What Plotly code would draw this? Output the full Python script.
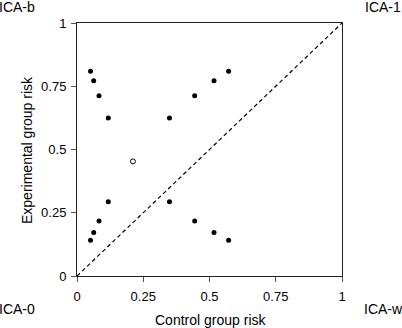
import plotly.graph_objects as go

# Control group risk (x) and experimental group risk (y), filled points
control_risk = [0.051, 0.063, 0.083, 0.118, 0.349, 0.444, 0.517, 0.572,
                0.051, 0.063, 0.083, 0.118, 0.349, 0.444, 0.517, 0.572]
experimental_risk = [0.809, 0.772, 0.712, 0.625, 0.625, 0.712, 0.772, 0.809,
                     0.141, 0.172, 0.217, 0.293, 0.293, 0.217, 0.172, 0.141]
# open point
open_control = [0.211]
open_experimental = [0.453]

diag = [0, 1]
tick_vals = [0, 0.25, 0.5, 0.75, 1]
tick_text = ["0", "0.25", "0.5", "0.75", "1"]
corner_labels = ["ICA-b", "ICA-1", "ICA-0", "ICA-w"]

FONT = "Liberation Sans, Arial, Helvetica, sans-serif"

fig = go.Figure()
fig.add_trace(go.Scatter(x=diag, y=diag, mode="lines",
                         line=dict(color="black", width=1.2, dash="4px,3px"),
                         hoverinfo="skip", showlegend=False))
fig.add_trace(go.Scatter(x=control_risk, y=experimental_risk, mode="markers",
                         marker=dict(color="black", size=5),
                         showlegend=False))
fig.add_trace(go.Scatter(x=open_control, y=open_experimental, mode="markers",
                         marker=dict(color="white", size=5, symbol="circle",
                                     line=dict(color="black", width=1)),
                         showlegend=False))

axis_common = dict(range=[0, 1], tickvals=tick_vals, ticktext=tick_text,
                   showgrid=False, zeroline=False, showline=True,
                   linecolor="#222", linewidth=1, mirror=True,
                   ticks="outside", ticklen=5, tickcolor="#555", tickwidth=1,
                   tickfont=dict(family=FONT, size=13, color="black"))

fig.update_layout(
    width=402, height=328,
    margin=dict(l=77, r=60, t=23, b=52),
    paper_bgcolor="white", plot_bgcolor="white",
    xaxis=dict(**axis_common, ticklabelstandoff=3),
    yaxis=dict(**axis_common, ticklabelstandoff=2),
    font=dict(family=FONT, size=14, color="black"),
)

ann = [
    dict(text="Control group risk", x=210, y=320),
    dict(text="Experimental group risk", x=27, y=150, textangle=-90),
    dict(text=corner_labels[0], x=17, y=7),
    dict(text=corner_labels[1], x=383, y=7),
    dict(text=corner_labels[2], x=17, y=309),
    dict(text=corner_labels[3], x=383, y=309),
]
plot_l, plot_r, plot_t, plot_b = 77, 342, 23, 276
for a in ann:
    px, py = a.pop("x"), a.pop("y")
    fig.add_annotation(
        **a,
        xref="paper", yref="paper",
        x=(px - plot_l) / (plot_r - plot_l),
        y=(plot_b - py) / (plot_b - plot_t),
        xanchor="center", yanchor="middle", showarrow=False,
        font=dict(family=FONT, size=14, color="black"),
    )

fig.write_html("out.html", config={"displayModeBar": False},
               post_script="document.body.style.margin='0';document.body.style.overflow='hidden';")
